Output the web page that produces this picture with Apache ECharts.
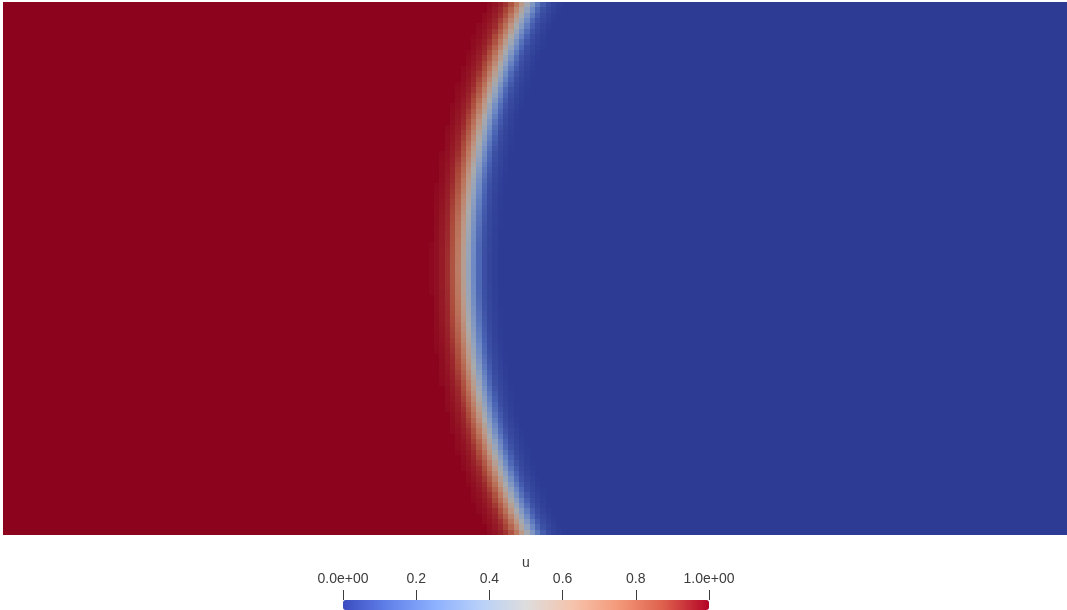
<!DOCTYPE html>
<html>
<head>
<meta charset="utf-8">
<script src="https://cdn.jsdelivr.net/npm/echarts@6/dist/echarts.min.js"></script>
<style>html,body{margin:0;padding:0;background:#fff;}#c{width:1067px;height:610px;}</style>
</head>
<body>
<div id="c"></div>
<script>
// ---- data ----
const nCols = 200;            // cells across
const nRows = 100;            // cells down
// column (in cell units) where the front (u ~ 0.5) sits, for each row from top to bottom
const frontCol = [98.72, 98.24, 97.78, 97.33, 96.88, 96.45, 96.03, 95.63, 95.23, 94.84,
  94.47, 94.11, 93.75, 93.41, 93.08, 92.75, 92.44, 92.14, 91.84, 91.56,
  91.29, 91.02, 90.77, 90.53, 90.29, 90.07, 89.85, 89.64, 89.45, 89.26,
  89.08, 88.91, 88.75, 88.60, 88.46, 88.33, 88.20, 88.09, 87.98, 87.89,
  87.80, 87.72, 87.65, 87.59, 87.53, 87.49, 87.45, 87.43, 87.41, 87.40,
  87.40, 87.41, 87.43, 87.45, 87.49, 87.53, 87.59, 87.65, 87.72, 87.80,
  87.89, 87.98, 88.09, 88.20, 88.33, 88.46, 88.60, 88.75, 88.91, 89.08,
  89.26, 89.45, 89.64, 89.85, 90.07, 90.29, 90.53, 90.77, 91.02, 91.29,
  91.56, 91.84, 92.14, 92.44, 92.75, 93.08, 93.41, 93.75, 94.11, 94.47,
  94.84, 95.23, 95.63, 96.03, 96.45, 96.88, 97.33, 97.78, 98.24, 98.72];
// u across the front, by distance (cells) from the front
const profileOffset = [-7, -6, -5, -4, -3, -2, -1, 0, 1, 2, 3, 4, 5, 6];
const profileU      = [0.99, 0.98, 0.96, 0.93, 0.86, 0.75, 0.6, 0.43, 0.27, 0.14, 0.06, 0.03, 0.01, 0];
const uLeft = 1, uRight = 0;
// colour bar
const cbarTitle = 'u';
const cbarTicks = [0, 0.2, 0.4, 0.6, 0.8, 1];
const cbarLabels = ['0.0e+00', '0.2', '0.4', '0.6', '0.8', '1.0e+00'];
const coolWarm = ['#3b4cc0', '#6282ea', '#8db0fe', '#b8d0f9', '#dddddd', '#f5c4ad', '#f49a7b', '#de604d', '#b40426'];
const coolWarmShaded = ['#2d3b94', '#4b64b4', '#6d88c4', '#8ea0c0', '#aaaaaa', '#bd9785', '#bc775f', '#ab4a3b', '#8b031d'];

// ---- build cells ----
function uAt(d) {
  if (d <= profileOffset[0]) return uLeft;
  const last = profileOffset.length - 1;
  if (d >= profileOffset[last]) return uRight;
  for (let i = 0; i < last; i++) {
    if (d <= profileOffset[i + 1]) {
      const t = (d - profileOffset[i]) / (profileOffset[i + 1] - profileOffset[i]);
      return profileU[i] + t * (profileU[i + 1] - profileU[i]);
    }
  }
  return uRight;
}
const cells = [];
for (let r = 0; r < nRows; r++) {
  const ra = Math.max(r - 1, 0), rb = Math.min(r + 1, nRows - 1);
  const slope = (frontCol[rb] - frontCol[ra]) / (rb - ra);
  const k = Math.sqrt(1 + slope * slope);
  for (let c = 0; c < nCols; c++) {
    const d = (c + 0.5 - frontCol[r]) / k;
    cells.push([c, r, uAt(d)]);
  }
}

function renderCell(params, api) {
  const c = api.value(0), r = api.value(1);
  const p0 = api.coord([c, r]);
  const p1 = api.coord([c + 1, r + 1]);
  const x0 = Math.round(Math.min(p0[0], p1[0])), x1 = Math.round(Math.max(p0[0], p1[0]));
  const y0 = Math.round(Math.min(p0[1], p1[1])), y1 = Math.round(Math.max(p0[1], p1[1]));
  return {
    type: 'rect',
    shape: {x: x0, y: y0, width: x1 - x0, height: y1 - y0},
    style: {fill: api.visual('color')}
  };
}

const chart = echarts.init(document.getElementById('c'), null, {renderer: 'canvas'});
chart.setOption({
  animation: false,
  backgroundColor: '#ffffff',
  grid: [
    {left: 3, top: 2, width: 1064, height: 533},
    {left: 343, top: 590, width: 366, height: 10}
  ],
  xAxis: [
    {type: 'value', gridIndex: 0, min: 0, max: nCols, show: false},
    {type: 'value', gridIndex: 1, min: 0, max: 1, interval: 0.2, position: 'top',
      axisLine: {show: false}, axisTick: {show: false},
      splitLine: {show: true, lineStyle: {color: '#3c3c3c', width: 1}},
      axisLabel: {margin: 4, fontSize: 14, color: '#3c3c3c', fontFamily: 'Liberation Sans',
        formatter: (v, i) => cbarLabels[i]}}
  ],
  yAxis: [
    {type: 'value', gridIndex: 0, min: 0, max: nRows, show: false, inverse: true},
    {type: 'value', gridIndex: 1, show: false, min: 0, max: 1}
  ],
  visualMap: [
    {type: 'continuous', min: 0, max: 1, seriesIndex: 0, dimension: 2, show: false,
      inRange: {color: coolWarmShaded}},
    {type: 'continuous', min: 0, max: 1, seriesIndex: 1, show: true, orient: 'horizontal',
      left: 343, top: 600, itemWidth: 10, itemHeight: 366, padding: 0, calculable: false,
      hoverLink: false, inRange: {color: coolWarm}}
  ],
  graphic: [
    {type: 'text', x: 526, y: 563, silent: true,
      style: {text: cbarTitle, fontSize: 14, fontFamily: 'Liberation Sans', fill: '#3c3c3c',
        textAlign: 'center', textVerticalAlign: 'middle'}}
  ],
  series: [
    {type: 'custom', xAxisIndex: 0, yAxisIndex: 0, data: cells, progressive: 0,
      renderItem: renderCell, encode: {x: 0, y: 1}, silent: true},
    {type: 'scatter', xAxisIndex: 1, yAxisIndex: 1, data: []}
  ]
});
</script>
</body>
</html>
